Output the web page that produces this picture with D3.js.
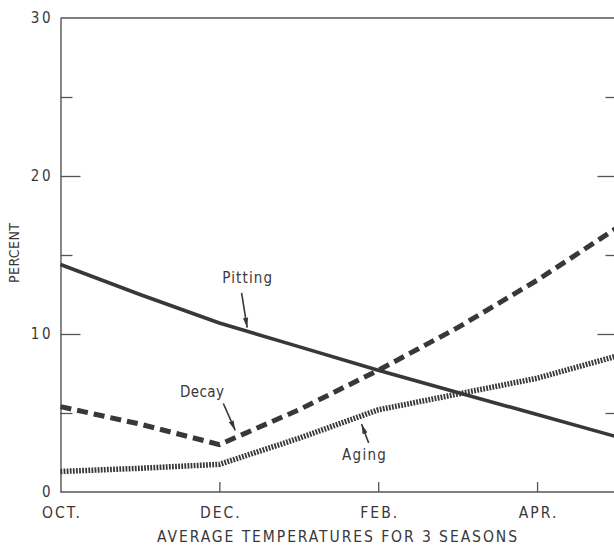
<!DOCTYPE html>
<html><head><meta charset="utf-8">
<script src="https://cdn.jsdelivr.net/npm/d3@7"></script>
<style>
html,body{margin:0;padding:0;background:#fff;}
svg{display:block;}
text{font-family:"DejaVu Sans Condensed","DejaVu Sans",sans-serif;fill:#3a373a;}
</style></head>
<body>
<svg id="chart" width="614" height="548"></svg>
<script>
// ---- data ----
const months = ["OCT","NOV","DEC","JAN","FEB","MAR","APR","MAY"];
const tickMonths = ["OCT","DEC","FEB","APR"];
const tickLabels = ["OCT.","DEC.","FEB.","APR."];
const pitting = [14.4, 12.5, 10.7, 9.2, 7.7, 6.3, 4.9, 3.5];
const decay   = [5.4, 4.3, 3.0, 5.2, 7.7, 10.4, 13.4, 16.7];
const aging   = [1.3, 1.5, 1.75, 3.4, 5.2, 6.2, 7.2, 8.6];
const yMajor = [0, 10, 20, 30];
const yMinor = [5, 15, 25];
const yTitle = "PERCENT";
const xTitle = "AVERAGE TEMPERATURES FOR 3 SEASONS";

const svg = d3.select("#chart");
const ink = "#3a373a";
const axisInk = "#555";

const x = d3.scalePoint().domain(months).range([60.5, 616.5]);
const y = d3.scaleLinear().domain([0, 30]).range([492, 18]);
const xl = d3.scaleLinear().domain([0, months.length - 1]).range(x.range());

// frame: top line
svg.append("line").attr("x1", x("OCT")).attr("x2", 614).attr("y1", y(30)).attr("y2", y(30))
  .attr("stroke", axisInk).attr("stroke-width", 1.4);

function styleAxis(g){
  g.selectAll("path.domain").attr("stroke", axisInk).attr("stroke-width", 1.4);
  g.selectAll(".tick line").attr("stroke", axisInk).attr("stroke-width", 1.3);
  g.selectAll("text").attr("font-family", null).style("font-size","15px").attr("fill", ink);
}

// left axis (major with labels)
const gL = svg.append("g").attr("transform", `translate(${x("OCT")},0)`)
  .call(d3.axisLeft(y).tickValues(yMajor).tickSize(-20).tickPadding(10).tickFormat(d3.format("d")).tickSizeOuter(0));
styleAxis(gL);
gL.selectAll(".tick").filter(d => d === 0 || d === 30).select("line").remove();
gL.selectAll(".tick text").attr("letter-spacing", "2.5px").attr("dx", "2.5px");
// left minor ticks
const gLm = svg.append("g").attr("transform", `translate(${x("OCT")},0)`)
  .call(d3.axisLeft(y).tickValues(yMinor).tickSize(-12).tickFormat(""));
gLm.select("path.domain").remove();
styleAxis(gLm);

// right ticks (axis line itself lies off the page edge)
const rightX = x("MAY");
const gR = svg.append("g").attr("transform", `translate(${rightX},0)`)
  .call(d3.axisRight(y).tickValues([10,20]).tickSize(-19).tickFormat(""));
gR.select("path.domain").remove();
styleAxis(gR);
const gRm = svg.append("g").attr("transform", `translate(${rightX},0)`)
  .call(d3.axisRight(y).tickValues(yMinor).tickSize(-11).tickFormat(""));
gRm.select("path.domain").remove();
styleAxis(gRm);

// bottom axis
const gB = svg.append("g").attr("transform", `translate(0,${y(0)})`)
  .call(d3.axisBottom(x).tickValues(tickMonths).tickSize(-10).tickPadding(15)
    .tickFormat((d,i) => tickLabels[i]).tickSizeOuter(0));
styleAxis(gB);
gB.select("path.domain").attr("d", `M${x("OCT")},0H614`);
gB.selectAll(".tick").filter(d => d === "OCT").select("line").remove();
gB.selectAll(".tick text").style("font-size","15.5px").attr("letter-spacing","2px").attr("dx","1px");

// axis titles
svg.append("text").attr("x", 337).attr("y", 542).attr("text-anchor","middle")
  .style("font-size","15.5px").attr("textLength", 360).attr("lengthAdjust","spacing").text(xTitle);
svg.append("text").attr("transform","translate(19,253) rotate(-90)").attr("text-anchor","middle")
  .style("font-size","14px").attr("textLength", 60).attr("lengthAdjust","spacing").text(yTitle);

// lines
const line = d3.line().x((d,i) => x(months[i])).y(d => y(d));
svg.append("path").datum(pitting).attr("d", line).attr("fill","none")
  .attr("stroke", ink).attr("stroke-width", 3.6).attr("stroke-linejoin","round");
svg.append("path").datum(decay).attr("d", line).attr("fill","none")
  .attr("stroke", ink).attr("stroke-width", 5).attr("stroke-dasharray","11,6");
svg.append("path").datum(aging).attr("d", line).attr("fill","none")
  .attr("stroke", ink).attr("stroke-width", 5.5).attr("stroke-dasharray","1.8,1.3");

// annotations: label + arrow (positions in data units)
const notes = [
  {t:"Pitting", tx:2.35, ty:13.25, len:50, from:[2.28,12.6], to:[2.35,10.4]},
  {t:"Decay",   tx:1.78, ty:6.0,  len:44, from:[2.05,5.6],  to:[2.20,3.9]},
  {t:"Aging",   tx:3.82, ty:2.0,  len:44, from:[3.88,3.1],  to:[3.79,4.3]}
];
svg.append("defs").append("marker").attr("id","ah").attr("viewBox","0 0 10 10")
  .attr("refX",10).attr("refY",5).attr("markerWidth",10).attr("markerHeight",10)
  .attr("markerUnits","userSpaceOnUse").attr("orient","auto")
  .append("path").attr("d","M0,2.4L10,5L0,7.6Z").attr("fill",ink);
notes.forEach(n => {
  svg.append("text").attr("x", xl(n.tx)).attr("y", y(n.ty)).attr("text-anchor","middle")
    .style("font-size","15px").attr("textLength", n.len).attr("lengthAdjust","spacing").text(n.t);
  svg.append("line").attr("x1", xl(n.from[0])).attr("y1", y(n.from[1]))
    .attr("x2", xl(n.to[0])).attr("y2", y(n.to[1]))
    .attr("stroke", ink).attr("stroke-width", 1.6).attr("marker-end","url(#ah)");
});
</script>
</body></html>
